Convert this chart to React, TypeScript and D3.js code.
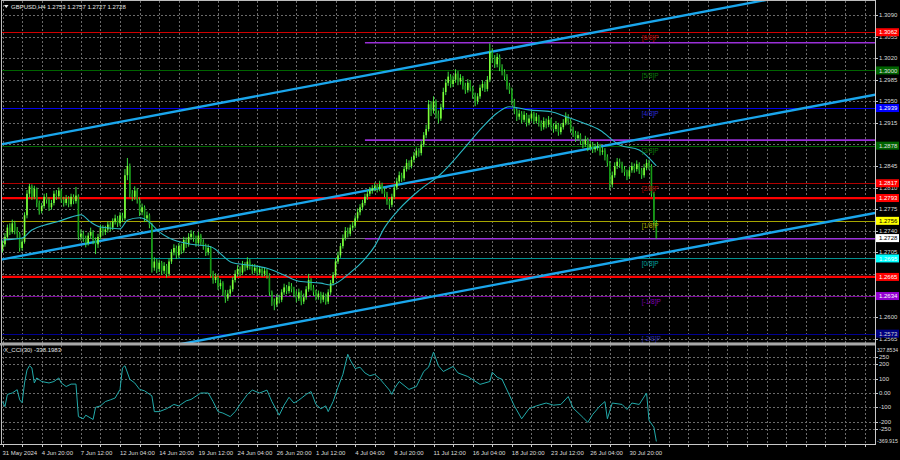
import React from "react";
import * as d3 from "d3";

const firstOpen = 1.271;
const closes = [
1.2718,1.2730,1.2745,1.2738,1.2752,1.2740,1.2735,1.2712,1.2722,1.2765,
1.2800,1.2812,1.2795,1.2808,1.2785,1.2772,1.2780,1.2795,1.2790,1.2778,
1.2785,1.2800,1.2796,1.2805,1.2790,1.2785,1.2792,1.2783,1.2795,1.2788,
1.2797,1.2730,1.2735,1.2728,1.2720,1.2732,1.2738,1.2725,1.2718,1.2730,
1.2745,1.2738,1.2742,1.2750,1.2745,1.2755,1.2760,1.2752,1.2765,1.2760,
1.2830,1.2845,1.2800,1.2795,1.2805,1.2790,1.2770,1.2778,1.2760,1.2765,
1.2750,1.2680,1.2690,1.2678,1.2688,1.2675,1.2683,1.2670,1.2690,1.2705,
1.2712,1.2700,1.2715,1.2708,1.2725,1.2718,1.2730,1.2735,1.2728,1.2720,
1.2732,1.2722,1.2715,1.2705,1.2712,1.2670,1.2660,1.2665,1.2650,1.2655,
1.2640,1.2630,1.2638,1.2645,1.2660,1.2670,1.2678,1.2672,1.2685,1.2680,
1.2690,1.2682,1.2675,1.2680,1.2672,1.2678,1.2670,1.2675,1.2668,1.2640,
1.2625,1.2620,1.2632,1.2628,1.2640,1.2648,1.2642,1.2650,1.2645,1.2638,
1.2630,1.2640,1.2625,1.2632,1.2645,1.2660,1.2648,1.2640,1.2632,1.2638,
1.2628,1.2635,1.2625,1.2640,1.2655,1.2668,1.2690,1.2700,1.2715,1.2728,
1.2740,1.2735,1.2745,1.2748,1.2760,1.2770,1.2778,1.2785,1.2795,1.2800,
1.2805,1.2809,1.2812,1.2808,1.2815,1.2805,1.2800,1.2788,1.2782,1.2795,
1.2810,1.2820,1.2830,1.2825,1.2840,1.2850,1.2845,1.2855,1.2862,1.2870,
1.2866,1.2880,1.2895,1.2905,1.2945,1.2935,1.2950,1.2930,1.2922,1.2940,
1.2965,1.2980,1.2990,1.2978,1.2985,1.2995,1.2982,1.2988,1.2975,1.2968,
1.2980,1.2972,1.2960,1.2950,1.2958,1.2972,1.2978,1.2970,1.2985,1.3030,
1.3020,1.3010,1.3022,1.3005,1.2998,1.2990,1.2975,1.2968,1.2950,1.2935,
1.2925,1.2930,1.2920,1.2928,1.2915,1.2922,1.2930,1.2918,1.2925,1.2915,
1.2908,1.2918,1.2912,1.2920,1.2910,1.2905,1.2912,1.2900,1.2908,1.2915,
1.2925,1.2918,1.2905,1.2898,1.2890,1.2895,1.2885,1.2880,1.2888,1.2875,
1.2880,1.2872,1.2875,1.2878,1.2868,1.2870,1.2860,1.2850,1.2815,1.2830,
1.2845,1.2852,1.2848,1.2840,1.2835,1.2828,1.2838,1.2845,1.2840,1.2848,
1.2838,1.2830,1.2842,1.2850,1.2845,1.2800,1.2753,1.2728
];
const highs = [
1.2724,1.2736,1.2750,1.2752,1.2758,1.2756,1.2746,1.2738,1.2728,1.2770,
1.2806,1.2816,1.2815,1.2813,1.2810,1.2789,1.2785,1.2800,1.2801,1.2794,
1.2790,1.2805,1.2806,1.2810,1.2808,1.2795,1.2798,1.2796,1.2800,1.2799,
1.2811,1.2799,1.2742,1.2740,1.2732,1.2737,1.2745,1.2741,1.2729,1.2735,
1.2750,1.2749,1.2748,1.2755,1.2754,1.2760,1.2766,1.2764,1.2770,1.2769,
1.2840,1.2858,1.2849,1.2806,1.2812,1.2809,1.2794,1.2784,1.2781,1.2771,
1.2768,1.2753,1.2697,1.2694,1.2693,1.2691,1.2689,1.2686,1.2695,1.2710,
1.2718,1.2716,1.2720,1.2719,1.2730,1.2729,1.2736,1.2741,1.2739,1.2732,
1.2738,1.2735,1.2726,1.2719,1.2718,1.2715,1.2675,1.2671,1.2668,1.2661,
1.2658,1.2644,1.2644,1.2651,1.2665,1.2676,1.2684,1.2682,1.2691,1.2689,
1.2697,1.2694,1.2686,1.2686,1.2684,1.2683,1.2681,1.2680,1.2678,1.2671,
1.2643,1.2630,1.2637,1.2636,1.2645,1.2654,1.2652,1.2657,1.2655,1.2649,
1.2642,1.2646,1.2643,1.2638,1.2650,1.2670,1.2663,1.2652,1.2644,1.2643,
1.2641,1.2640,1.2638,1.2645,1.2660,1.2673,1.2695,1.2706,1.2720,1.2734,
1.2746,1.2745,1.2750,1.2754,1.2765,1.2776,1.2783,1.2790,1.2800,1.2806,
1.2811,1.2814,1.2818,1.2816,1.2821,1.2818,1.2810,1.2803,1.2792,1.2800,
1.2815,1.2826,1.2836,1.2834,1.2845,1.2856,1.2854,1.2860,1.2868,1.2875,
1.2874,1.2886,1.2900,1.2912,1.2952,1.2950,1.2958,1.2953,1.2935,1.2946,
1.2972,1.2986,1.2998,1.2994,1.2992,1.3002,1.2999,1.2994,1.2991,1.2980,
1.2986,1.2984,1.2975,1.2964,1.2963,1.2977,1.2984,1.2982,1.2991,1.3044,
1.3036,1.3025,1.3028,1.3026,1.3010,1.3002,1.2994,1.2980,1.2972,1.2954,
1.2939,1.2936,1.2934,1.2934,1.2931,1.2928,1.2936,1.2933,1.2931,1.2928,
1.2919,1.2924,1.2922,1.2926,1.2923,1.2914,1.2918,1.2915,1.2914,1.2921,
1.2932,1.2929,1.2921,1.2909,1.2902,1.2901,1.2898,1.2889,1.2894,1.2891,
1.2886,1.2884,1.2881,1.2884,1.2881,1.2876,1.2874,1.2864,1.2853,1.2836,
1.2851,1.2858,1.2857,1.2852,1.2845,1.2839,1.2844,1.2851,1.2849,1.2854,
1.2851,1.2842,1.2848,1.2856,1.2855,1.2848,1.2803,1.2757
];
const lows = [
1.2705,1.2714,1.2726,1.2733,1.2735,1.2734,1.2728,1.2706,1.2708,1.2719,
1.2760,1.2794,1.2790,1.2791,1.2778,1.2766,1.2768,1.2776,1.2784,1.2772,
1.2774,1.2781,1.2790,1.2792,1.2785,1.2779,1.2781,1.2778,1.2779,1.2783,
1.2784,1.2725,1.2724,1.2722,1.2713,1.2716,1.2727,1.2718,1.2702,1.2712,
1.2726,1.2732,1.2733,1.2737,1.2739,1.2741,1.2750,1.2746,1.2748,1.2754,
1.2757,1.2822,1.2794,1.2788,1.2790,1.2784,1.2764,1.2765,1.2754,1.2755,
1.2744,1.2672,1.2675,1.2671,1.2673,1.2668,1.2670,1.2664,1.2666,1.2686,
1.2700,1.2694,1.2696,1.2702,1.2704,1.2712,1.2714,1.2725,1.2722,1.2714,
1.2716,1.2716,1.2709,1.2699,1.2700,1.2664,1.2654,1.2655,1.2644,1.2645,
1.2634,1.2623,1.2626,1.2633,1.2641,1.2656,1.2665,1.2666,1.2668,1.2674,
1.2676,1.2677,1.2669,1.2671,1.2667,1.2668,1.2665,1.2666,1.2662,1.2634,
1.2618,1.2611,1.2616,1.2622,1.2624,1.2636,1.2637,1.2638,1.2640,1.2632,
1.2624,1.2626,1.2619,1.2621,1.2628,1.2641,1.2643,1.2634,1.2627,1.2628,
1.2622,1.2624,1.2620,1.2621,1.2636,1.2651,1.2664,1.2686,1.2696,1.2711,
1.2724,1.2729,1.2731,1.2740,1.2744,1.2756,1.2765,1.2773,1.2781,1.2790,
1.2796,1.2800,1.2804,1.2802,1.2804,1.2800,1.2794,1.2782,1.2775,1.2778,
1.2791,1.2806,1.2816,1.2819,1.2821,1.2836,1.2839,1.2841,1.2851,1.2858,
1.2860,1.2862,1.2876,1.2890,1.2901,1.2926,1.2930,1.2922,1.2914,1.2918,
1.2936,1.2960,1.2975,1.2972,1.2973,1.2980,1.2976,1.2977,1.2969,1.2962,
1.2964,1.2966,1.2954,1.2942,1.2945,1.2954,1.2967,1.2965,1.2966,1.2981,
1.3012,1.3004,1.3005,1.2999,1.2992,1.2984,1.2969,1.2962,1.2944,1.2929,
1.2918,1.2920,1.2914,1.2916,1.2909,1.2911,1.2918,1.2913,1.2914,1.2909,
1.2902,1.2904,1.2906,1.2908,1.2904,1.2899,1.2901,1.2894,1.2896,1.2904,
1.2911,1.2912,1.2899,1.2892,1.2884,1.2886,1.2879,1.2874,1.2876,1.2869,
1.2871,1.2866,1.2867,1.2870,1.2862,1.2863,1.2854,1.2844,1.2806,1.2810,
1.2826,1.2840,1.2842,1.2834,1.2829,1.2822,1.2824,1.2834,1.2834,1.2836,
1.2832,1.2824,1.2826,1.2838,1.2839,1.2795,1.2748,1.2727
];

const maIdx = [0,8,12,17,22,28,32,36,40,45,48,51,56,60,64,68,77,85,94,101,108,115,121,130,134,142,147,152,156,162,170,179,188,196,202,207,215,224,230,237,244,252,260,267];
const maVal = [1.2725,1.2728,1.2741,1.2749,1.2754,1.2762,1.2766,1.2754,1.2746,1.2744,1.2743,1.2757,1.2761,1.2754,1.2738,1.2728,1.2718,1.2714,1.2688,1.2684,1.2679,1.2668,1.2658,1.2655,1.2652,1.2672,1.2690,1.2715,1.2745,1.2775,1.2805,1.2832,1.2871,1.2908,1.2931,1.2941,1.2936,1.2933,1.2925,1.2915,1.2903,1.2879,1.2871,1.2845];

const cciIdx = [0,1,2,4,6,7,8,9,10,11,12,13,14,16,19,21,23,24,26,28,30,31,33,34,37,38,40,42,44,46,48,49,50,52,54,56,58,61,62,64,67,70,72,75,77,81,84,86,88,90,93,95,97,100,102,105,108,110,113,115,117,119,121,124,126,128,130,132,133,135,137,139,141,142,144,146,148,150,152,154,156,158,159,160,162,166,169,172,174,176,178,180,184,186,190,195,199,200,202,204,207,209,212,215,218,222,225,228,231,233,237,239,241,244,246,247,249,253,255,257,260,263,264,266,267];
const cciVal = [-60,-95,-10,0,23,-47,-68,70,160,190,175,70,105,80,70,80,105,70,45,62,62,-165,-180,-155,-185,-100,-90,-60,-48,-35,25,175,190,95,70,25,15,-20,-130,-130,-110,-80,-90,-55,-45,0,0,-60,-130,-140,-165,-130,-80,-10,20,0,20,-60,-155,-85,-30,-70,-50,-10,10,-80,-110,-90,-130,-60,40,130,270,230,170,180,140,120,130,100,60,20,-10,30,80,25,45,150,180,285,190,150,185,140,115,60,80,145,110,95,-15,-90,-180,-110,-90,-70,-85,-80,-25,-105,-170,-205,-150,-90,-60,-180,-70,-80,-115,-70,-80,0,-190,-240,-338.1983];

const priceTicks = ["1.3090","1.3055","1.3020","1.2985","1.2950","1.2915","1.2880","1.2845","1.2810","1.2775","1.2740","1.2705","1.2670","1.2635","1.2600","1.2565"];
const cciTicks = [250, 200, 100, 0, -100, -200, -250];
const cciTickLabels = ["250","200","100","0.00","-100","-200","-250"];
const cciMax = 327.8534;
const cciMin = -369.915;
const timeLabels = ["31 May 2024","4 Jun 20:00","7 Jun 12:00","12 Jun 04:00","14 Jun 20:00","19 Jun 12:00","24 Jun 04:00","26 Jun 20:00","1 Jul 12:00","4 Jul 04:00","8 Jul 20:00","11 Jul 12:00","16 Jul 04:00","18 Jul 20:00","23 Jul 12:00","26 Jul 04:00","30 Jul 20:00"];

const murreyLevels = [1.3062, 1.3000, 1.2939, 1.2878, 1.2817, 1.2756, 1.2695, 1.2634, 1.2573];
const murreyNames = ["[6/8]P","[5/8]P","[4/8]P","[3/8]P","[2/8]P","[1/8]P","[0/8]P","[-1/8]P","[-2/8]P"];
const srLevels = [1.2793, 1.2665];
const bandLevels = [1.3045, 1.2887, 1.2727];
const bandStartBar = 148;
const channelBars = [-2, 358];
const channelStart = [1.2879, 1.2692, 1.2500];
const channelEnd = [1.3149, 1.2962, 1.2770];

const murreyLine = ["#d00000","#006400","#0000e8","#006400","#b00000","#a6a600","#009090","#7a0a9a","#000090"];
const murreyBox = ["#ff0000","#006400","#0000ff","#006400","#ff0000","#ffff00","#00ffff","#9400d3","#000080"];
const murreyBoxText = ["#ffffff","#e0e0e0","#ffffff","#e0e0e0","#ffffff","#000000","#ffffff","#ffffff","#d0d0d0"];
const murreyLabelColor = ["#c00000","#0a7a0a","#2a2ad8","#0a7a0a","#b00000","#b0b000","#00a0a0","#8000b0","#2a2aaa"];

export default function App() {
  const W = 900, H = 460;
  const L = 1, R = 875, MB = 343, CT = 345, CB = 444;
  const x = d3.scaleLinear().domain([0, 356]).range([2.5, 874.3]);
  const y = d3.scaleLinear().domain([1.25578, 1.31143]).range([343, 0]);
  const cy = d3.scaleLinear().domain([cciMin, cciMax]).range([446, 346]);
  const font = "'Liberation Sans', Arial, sans-serif";
  const crisp = (v: number) => Math.round(v) + 0.5;
  const last = closes.length - 1;
  const gridBars = d3.range(0, 357, 8);
  const gridCol = "#6a6a6a";
  const axisText = "#dcdcdc";

  const maPath = d3.line<number>().x((_, i) => x(maIdx[i])).y((d) => y(d)).curve(d3.curveMonotoneX)(maVal) || "";
  const cciPath = d3.line<number>().x((_, i) => x(cciIdx[i])).y((d) => cy(d))(cciVal) || "";

  const title = `GBPUSD,H4  ${closes[last - 1].toFixed(4)} ${highs[last].toFixed(4)} ${lows[last].toFixed(4)} ${closes[last].toFixed(4)}`;

  const boxes: { p: number; fill: string; tc: string }[] = [];
  murreyLevels.forEach((p, i) => boxes.push({ p, fill: murreyBox[i], tc: murreyBoxText[i] }));
  srLevels.forEach((p) => boxes.push({ p, fill: "#ff0000", tc: "#ffffff" }));
  boxes.push({ p: closes[last], fill: "#ffffff", tc: "#000000" });
  const visibleTicks = priceTicks.filter((t) => !boxes.some((b) => Math.abs(y(b.p) - y(+t)) < 3.5));

  return (
    <div style={{ position: "fixed", left: 0, top: 0, width: W, height: H }}>
      <svg width={W} height={H} style={{ display: "block", background: "#000" }} fontFamily={font}>
        <defs>
          <clipPath id="mainClip"><rect x={L} y={1} width={R - L} height={MB - 1} /></clipPath>
          <clipPath id="cciClip"><rect x={L} y={CT} width={R - L} height={CB - CT} /></clipPath>
        </defs>
        <rect x={0} y={0} width={W} height={H} fill="#000" />

        <g stroke={gridCol} strokeWidth={1} strokeDasharray="2,2">
          {gridBars.map((b) => (
            <line key={"gv" + b} x1={crisp(x(b))} x2={crisp(x(b))} y1={1} y2={MB} />
          ))}
          {priceTicks.map((t) => (
            <line key={"gh" + t} x1={L} x2={R} y1={crisp(y(+t))} y2={crisp(y(+t))} />
          ))}
          {gridBars.map((b) => (
            <line key={"cv" + b} x1={crisp(x(b))} x2={crisp(x(b))} y1={CT} y2={CB} />
          ))}
          {cciTicks.map((t) => (
            <line key={"ch" + t} x1={L} x2={R} y1={crisp(cy(t))} y2={crisp(cy(t))} />
          ))}
        </g>

        <g clipPath="url(#mainClip)">
          <line x1={L} x2={R} y1={crisp(y(closes[last]))} y2={crisp(y(closes[last]))} stroke="#777" strokeWidth={1} />
          {murreyLevels.map((p, i) => (
            <line key={"m" + i} x1={L} x2={R} y1={crisp(y(p))} y2={crisp(y(p))} stroke={murreyLine[i]} strokeWidth={1} />
          ))}
          {srLevels.map((p, i) => (
            <line key={"sr" + i} x1={L} x2={R} y1={y(p)} y2={y(p)} stroke="#ff0000" strokeWidth={2.2} />
          ))}
          {bandLevels.map((p, i) => (
            <line key={"b" + i} x1={x(bandStartBar)} x2={R} y1={y(p)} y2={y(p)} stroke="#9a30d8" strokeWidth={1.6} />
          ))}
          {channelStart.map((p, i) => (
            <line key={"ch" + i} x1={x(channelBars[0])} x2={x(channelBars[1])} y1={y(p)} y2={y(channelEnd[i])} stroke="#1aa6ec" strokeWidth={2.4} />
          ))}
          {closes.map((c, i) => {
            const o = i === 0 ? firstOpen : closes[i - 1];
            const cx = x(i);
            const up = c >= o;
            const top = y(Math.max(o, c));
            const bot = y(Math.min(o, c));
            return (
              <g key={"k" + i}>
                <line x1={cx} x2={cx} y1={y(highs[i])} y2={y(lows[i])} stroke="#3cdc3c" strokeWidth={1} />
                <rect x={cx - 0.8} y={top} width={1.6} height={Math.max(0.8, bot - top)} fill={up ? "#7dff3a" : "#169a16"} />
              </g>
            );
          })}
          <path d={maPath} fill="none" stroke="#2bb8c4" strokeWidth={1.1} />
          {murreyLevels.map((p, i) => (
            <text key={"ml" + i} x={x(last - 6)} y={y(p) + 7.5} fontSize={6.5} fill={murreyLabelColor[i]}>{murreyNames[i]}</text>
          ))}
        </g>

        <g clipPath="url(#cciClip)">
          <path d={cciPath} fill="none" stroke="#22aaaa" strokeWidth={1} />
        </g>

        <rect x={L + 0.5} y={0.5} width={R - L} height={MB - 0.5} fill="none" stroke="#bdbdbd" strokeWidth={1} />
        <rect x={0} y={MB} width={R + 1} height={2.5} fill="#a8a8a8" />
        <line x1={L + 0.5} x2={L + 0.5} y1={CT} y2={CB} stroke="#bdbdbd" />
        <line x1={R + 0.5} x2={R + 0.5} y1={0} y2={CB} stroke="#c8c8c8" />
        <line x1={0} x2={R + 1} y1={CB + 0.5} y2={CB + 0.5} stroke="#c8c8c8" />

        <path d="M4,5 L8.5,5 L6.25,8 Z" fill="#e6e6e6" />
        <text x={11} y={9} fontSize={6} fill="#e6e6e6">{title}</text>
        <text x={4} y={352} fontSize={6} fill="#e6e6e6">{`X_CCI(30) ${cciVal[cciVal.length - 1].toFixed(4)}`}</text>

        {priceTicks.map((t) => (
          <line key={"ptl" + t} x1={R} x2={R + 3} y1={crisp(y(+t))} y2={crisp(y(+t))} stroke="#c8c8c8" />
        ))}
        {visibleTicks.map((t) => (
          <text key={"pt" + t} x={R + 4} y={y(+t)} dy="0.35em" fontSize={6} fill={axisText}>{t}</text>
        ))}
        {boxes.map((b, i) => (
          <g key={"bx" + i}>
            <rect x={R + 1} y={y(b.p) - 4} width={23} height={8} fill={b.fill} />
            <text x={R + 4} y={y(b.p)} dy="0.35em" fontSize={6} fill={b.tc}>{b.p.toFixed(4)}</text>
          </g>
        ))}

        <text x={R + 2} y={Math.max(350, cy(cciMax))} dy="0.35em" fontSize={5.5} textLength={21} lengthAdjust="spacingAndGlyphs" fill={axisText}>{cciMax.toFixed(4)}</text>
        {cciTicks.map((t, i) => (
          <g key={"ct" + t}>
            <line x1={R} x2={R + 3} y1={crisp(cy(t))} y2={crisp(cy(t))} stroke="#c8c8c8" />
            <text x={R + 4} y={cy(t)} dy="0.35em" fontSize={6} fill={axisText}>{cciTickLabels[i]}</text>
          </g>
        ))}
        <text x={R + 2} y={Math.min(441, cy(cciMin))} dy="0.35em" fontSize={5.5} textLength={21} lengthAdjust="spacingAndGlyphs" fill={axisText}>{cciMin.toFixed(3)}</text>

        {gridBars.map((b) => (
          <line key={"tt" + b} x1={crisp(x(b))} x2={crisp(x(b))} y1={CB} y2={CB + 3} stroke="#c8c8c8" />
        ))}
        {timeLabels.map((t, i) => (
          <text key={"tl" + i} x={x(i * 16)} y={455} fontSize={6} fill={axisText}>{t}</text>
        ))}
      </svg>
    </div>
  );
}
